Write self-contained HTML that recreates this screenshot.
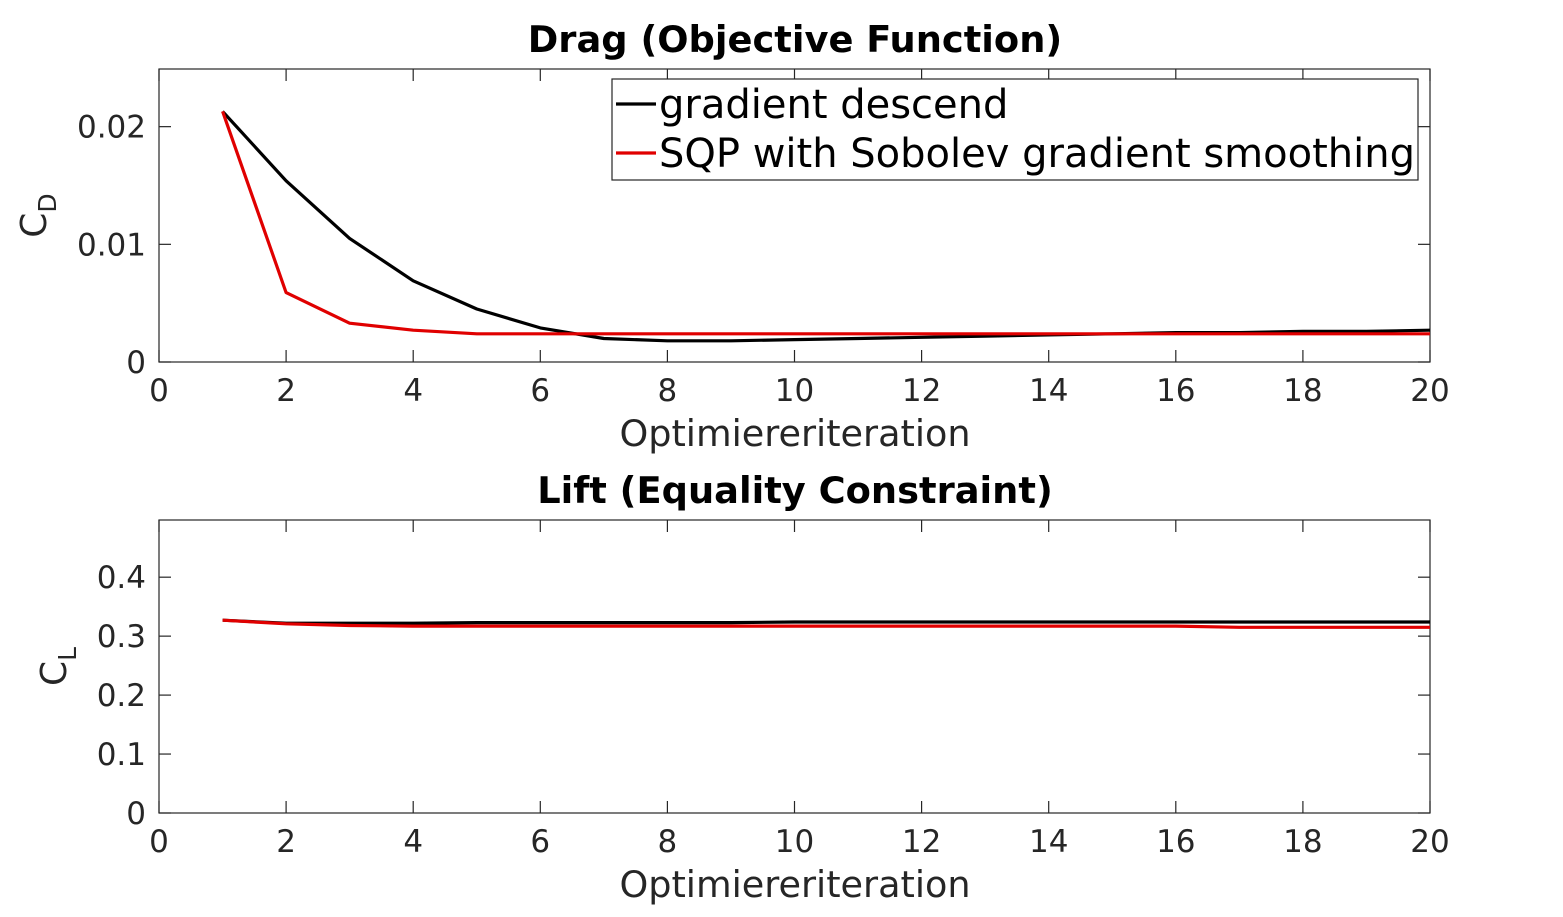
<!DOCTYPE html>
<html><head><meta charset="utf-8"><style>
html,body{margin:0;padding:0;background:#fff;}
svg{display:block;font-family:"DejaVu Sans","Liberation Sans",sans-serif;}
</style></head><body>
<svg id="chart" width="1563" height="917" viewBox="0 0 1563 917"></svg>
<script>
const iterations=[1,2,3,4,5,6,7,8,9,10,11,12,13,14,15,16,17,18,19,20];
const dragGD=[0.0213,0.0154,0.0105,0.0069,0.0045,0.0029,0.0020,0.0018,0.0018,0.0019,0.0020,0.0021,0.0022,0.0023,0.0024,0.0025,0.0025,0.0026,0.0026,0.0027];
const dragSQP=[0.0213,0.0059,0.0033,0.0027,0.0024,0.0024,0.0024,0.0024,0.0024,0.0024,0.0024,0.0024,0.0024,0.0024,0.0024,0.0024,0.0024,0.0024,0.0024,0.0024];
const liftGD=[0.327,0.322,0.322,0.322,0.323,0.323,0.323,0.323,0.323,0.324,0.324,0.324,0.324,0.324,0.324,0.324,0.324,0.324,0.324,0.324];
const liftSQP=[0.327,0.321,0.318,0.317,0.317,0.317,0.317,0.317,0.317,0.317,0.317,0.317,0.317,0.317,0.317,0.317,0.315,0.315,0.315,0.315];
const xTicks=[0,2,4,6,8,10,12,14,16,18,20];
const dragTicks=[0,0.01,0.02];
const dragTickLabels=["0","0.01","0.02"];
const liftTicks=[0,0.1,0.2,0.3,0.4];
const liftTickLabels=["0","0.1","0.2","0.3","0.4"];
const legendLabels=["gradient descend","SQP with Sobolev gradient smoothing"];

const NS="http://www.w3.org/2000/svg";
const svg=document.getElementById('chart');
function mk(tag,attrs,parent){const e=document.createElementNS(NS,tag);for(const k in attrs)e.setAttribute(k,attrs[k]);(parent||svg).appendChild(e);return e;}
function txt(s,attrs,parent){const e=mk('text',attrs,parent);e.textContent=s;return e;}

function panel(cfg){
  const g=mk('g',{});
  
  
  const L=159,R=1430,T=cfg.top,B=cfg.bottom;
  const xs=v=>L+(v-0)/20*(R-L);
  const ys=v=>B-(v/cfg.ymax)*(B-T);
  const box=mk('rect',{x:L,y:T,width:R-L,height:B-T,fill:'#fff',stroke:'#262626','stroke-width':1.2},g);
  
  
  xTicks.forEach(t=>{
    const x=xs(t);
    mk('line',{x1:x,y1:B,x2:x,y2:B-12,stroke:'#262626','stroke-width':1.2},g);
    mk('line',{x1:x,y1:T,x2:x,y2:T+12,stroke:'#262626','stroke-width':1.2},g);
    const l=txt(String(t),{x:x,y:B+39,'font-size':31,fill:'#262626','text-anchor':'middle'},g);
    
    
  });
  cfg.ticks.forEach((t,i)=>{
    const y=ys(t);
    mk('line',{x1:L,y1:y,x2:L+12,y2:y,stroke:'#262626','stroke-width':1.2},g);
    mk('line',{x1:R,y1:y,x2:R-12,y2:y,stroke:'#262626','stroke-width':1.2},g);
    const l=txt(cfg.tickLabels[i],{x:L-13,y:y+11,'font-size':31,fill:'#262626','text-anchor':'end'},g);
    
    
  });
  const xt=txt('Optimiereriteration',{x:795,y:B+84,'font-size':36.6,fill:'#262626','text-anchor':'middle'},g);
  
  
  const tt=txt(cfg.title,{x:795,y:T-17,'font-size':36.8,'font-weight':'bold',fill:'#000','text-anchor':'middle'},g);
  
  
  const yt=mk('text',{transform:`translate(${cfg.ylx},${(T+B)/2}) rotate(-90)`,'font-size':36,fill:'#262626','text-anchor':'middle'},g);
  
  
  yt.appendChild(document.createTextNode('C'));
  const sub=mk('tspan',{'font-size':25,dy:10},yt);sub.textContent=cfg.sub;
  cfg.series.forEach(s=>{
    const d=iterations.map((it,i)=>(i?'L':'M')+xs(it).toFixed(1)+','+ys(s.data[i]).toFixed(1)).join(' ');
    const p=mk('path',{d:d,fill:'none',stroke:s.color,'stroke-width':3.2,'stroke-linejoin':'round'},g);
    
    
  });
  return g;
}
panel({name:'drag-panel',top:69,bottom:362,ymax:0.0249,ticks:dragTicks,tickLabels:dragTickLabels,title:'Drag (Objective Function)',sub:'D',ylx:46,
  series:[{name:'drag-gradient-descend-line',data:dragGD,color:'#000'},{name:'drag-sqp-line',data:dragSQP,color:'#e00000'}]});
panel({name:'lift-panel',top:520,bottom:813,ymax:0.497,ticks:liftTicks,tickLabels:liftTickLabels,title:'Lift (Equality Constraint)',sub:'L',ylx:66,
  series:[{name:'lift-gradient-descend-line',data:liftGD,color:'#000'},{name:'lift-sqp-line',data:liftSQP,color:'#e00000'}]});

const lg=mk('g',{});


mk('rect',{x:612,y:79,width:806,height:101,fill:'#fff',stroke:'#262626','stroke-width':1.2},lg);
const colors=['#000','#e00000'];
legendLabels.forEach((s,i)=>{
  const y=104+i*49;
  const e=mk('g',{},lg);
  
  
  mk('line',{x1:616,y1:y,x2:656,y2:y,stroke:colors[i],'stroke-width':3.2},e);
  txt(s,{x:659,y:y+14,'font-size':40,fill:'#000'},e);
});
</script>
</body></html>
